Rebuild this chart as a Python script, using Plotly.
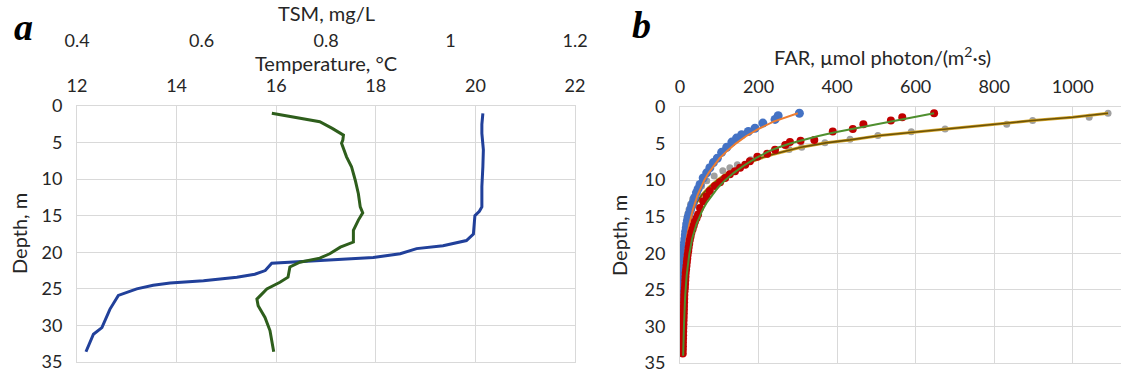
import plotly.graph_objects as go

W, H = 1121, 372

# ---------------- Panel a data ----------------
temp_depth = [1.0, 2.5, 3.75, 6.0, 8.3, 11.0, 13.8, 14.4, 15.0, 17.5, 18.4, 19.1, 19.5, 20.2, 20.7,
              21.0, 21.2, 21.5, 22.5, 23.0, 23.4, 23.9, 24.2, 24.5, 25.0, 25.9, 27.8, 30.3, 31.2, 33.6]
temp_c = [20.15, 20.13, 20.13, 20.16, 20.15, 20.13, 20.13, 20.08, 19.99, 19.96, 19.82, 19.35, 18.82, 18.49, 17.95,
          17.08, 16.55, 15.91, 15.78, 15.57, 15.21, 14.54, 13.87, 13.53, 13.20, 12.83, 12.66, 12.50, 12.33, 12.18]

tsm_depth = [1.0, 1.7, 2.15, 3.06, 3.98, 4.66, 5.1, 6.95, 8.3, 10.15, 12.0, 13.8, 14.6, 15.6, 17.0, 18.6,
             19.3, 20.2, 20.8, 21.35, 22.0, 23.4, 24.1, 25.0, 26.4, 27.3, 28.9, 30.7, 32.1, 33.6]
tsm_mgl = [0.713, 0.764, 0.790, 0.810, 0.828, 0.827, 0.825, 0.833, 0.841, 0.847, 0.852, 0.855, 0.859, 0.852, 0.844, 0.844,
           0.823, 0.806, 0.790, 0.758, 0.742, 0.739, 0.726, 0.705, 0.689, 0.691, 0.702, 0.710, 0.713, 0.716]

# ---------------- Panel b data ----------------
blue_depth = [0.85, 1.2, 1.7, 2.2, 2.9, 3.35, 3.8, 4.25, 4.8, 5.5, 6.2, 7.0, 7.6, 8.3, 9.0, 9.7, 10.6, 11.2, 11.7, 12.4,
              13.1, 13.5, 14.0, 14.5, 15.0, 15.5, 16.0, 16.5, 17.0, 17.5, 18.0, 18.5, 19.0, 19.5, 20.0, 20.5,
              21.0, 21.5, 22.0, 22.5, 23.0, 23.5, 24.0, 24.5, 25.0, 25.5, 26.0, 26.5, 27.0, 27.5, 28.0, 28.5,
              29.0, 29.5, 30.0]
blue_far = [304, 250, 242, 211, 191, 174, 157, 144, 132, 119, 106, 95, 85, 76, 68, 59, 51, 46, 42, 37,
            33, 30, 27, 24, 21, 19, 17, 16, 14.5, 13.5, 12.5, 11.5, 10.5, 10, 9, 8.5,
            8, 7.5, 7, 6.5, 6, 5.5, 5, 4.7, 4.3, 4, 3.7, 3.4, 3.1, 2.8, 2.5, 2.2,
            2, 1.7, 1.5]

red_depth = [0.86, 1.4, 1.85, 2.35, 3.0, 3.35, 4.5, 4.6, 4.8, 5.2, 5.85, 6.4, 6.8, 7.4, 7.9, 8.3, 8.8, 9.2,
             9.7, 10.3, 10.8, 11.5, 12.2, 12.9, 13.8, 14.7, 15.2, 15.7, 16.2, 16.7, 17.2, 17.7, 18.2, 18.7,
             19.2, 19.7, 20.2, 20.7, 21.2, 21.7, 22.2, 22.7, 23.2, 23.7, 24.2, 24.7, 25.2, 25.7, 26.2, 26.7,
             27.2, 27.7, 28.2, 28.7, 29.2, 29.7, 30.2, 30.7, 31.2, 31.7, 32.2, 32.7, 33.2, 33.7]
red_far = [647, 566, 537, 467, 440, 389, 342, 307, 280, 268, 242, 222, 197, 178, 166, 153, 140, 127,
           115, 102, 89, 76, 68, 59, 51, 46, 42, 38, 35, 32, 29, 27, 25, 23.5,
           22, 21, 19.5, 18.5, 17.5, 16.5, 15.5, 14.5, 14, 13.5, 13, 12.5, 11.5, 11, 10.8, 10.5,
           10.2, 10, 9.7, 9.4, 9.1, 8.8, 8.5, 8.2, 8, 7.8, 7.6, 7.4, 7.2, 7]

gray_depth = [0.86, 1.4, 1.85, 2.35, 3.0, 3.4, 3.9, 4.4, 4.9, 5.5, 5.8, 6.5, 7.2, 7.9, 8.3, 8.7, 9.45,
              10.1, 10.8, 11.7, 12.6, 13.3, 14.0, 14.6, 15.1]
gray_far = [1090, 1042, 898, 832, 675, 589, 504, 433, 369, 310, 278, 222, 180, 146, 127, 109, 87,
            68, 55, 41, 32, 27, 23, 20, 18]

orange_depth = [0.85, 1.5, 2, 3, 4, 5, 6, 7, 8, 9, 10, 12, 14, 16, 18, 20, 23, 26, 30]
orange_far = [300, 262, 238, 200, 168, 142, 120, 101, 86, 73, 62, 45, 33, 24, 17, 13, 8, 5, 3]

green_depth = [0.86, 1.5, 2, 2.5, 3, 3.5, 4, 4.5, 5, 5.5, 6, 7, 8, 9, 10, 11, 12, 13, 14, 16, 18, 20, 23, 26, 30, 34]
green_far = [647, 585, 540, 485, 435, 392, 350, 312, 280, 252, 228, 193, 163, 137, 115, 97, 82, 69, 58, 42, 31, 24, 17, 13, 10, 8]

brown_depth = [0.86, 1.4, 1.85, 2.35, 3.0, 3.4, 3.9, 4.5, 4.9, 5.5, 6.0, 6.5, 7.0, 7.5, 8, 9, 10, 11, 12, 13, 14, 15]
brown_far = [1090, 1000, 898, 800, 680, 595, 510, 433, 372, 308, 270, 235, 205, 180, 158, 122, 95, 73, 56, 43, 33, 25]

temp_ticks = [12, 14, 16, 18, 20, 22]
tsm_ticks = [0.4, 0.6, 0.8, 1.0, 1.2]
far_ticks = [0, 200, 400, 600, 800, 1000]
depth_ticks = [0, 5, 10, 15, 20, 25, 30, 35]

FONT = "Lato"
TXT = "#262626"
GRID = "#d9d9d9"


def px_x(p):
    return p / W


def px_y(p):
    return 1 - p / H


fig = go.Figure()

# Panel a
fig.add_trace(go.Scatter(x=temp_c, y=temp_depth, mode="lines", xaxis="x", yaxis="y",
                         line=dict(color="#21409a", width=3), showlegend=False))
fig.add_trace(go.Scatter(x=tsm_mgl, y=tsm_depth, mode="lines", xaxis="x2", yaxis="y",
                         line=dict(color="#2e5e1c", width=3), showlegend=False))

# Panel b
fig.add_trace(go.Scatter(x=gray_far, y=gray_depth, mode="markers", xaxis="x3", yaxis="y3",
                         marker=dict(color="#a0a0a0", size=7, line=dict(width=0)), showlegend=False))
fig.add_trace(go.Scatter(x=brown_far, y=brown_depth, mode="lines", xaxis="x3", yaxis="y3",
                         line=dict(color="#d4a52a", width=3), showlegend=False))
fig.add_trace(go.Scatter(x=brown_far, y=brown_depth, mode="lines", xaxis="x3", yaxis="y3",
                         line=dict(color="#6b5208", width=1.6), showlegend=False))
fig.add_trace(go.Scatter(x=blue_far, y=blue_depth, mode="markers", xaxis="x3", yaxis="y3",
                         marker=dict(color="#4472C4", size=9, line=dict(width=0)), showlegend=False))
fig.add_trace(go.Scatter(x=orange_far, y=orange_depth, mode="lines", xaxis="x3", yaxis="y3",
                         line=dict(color="#ED7D31", width=2), showlegend=False))
fig.add_trace(go.Scatter(x=red_far, y=red_depth, mode="markers", xaxis="x3", yaxis="y3",
                         marker=dict(color="#C00000", size=8, line=dict(width=0)), showlegend=False))
fig.add_trace(go.Scatter(x=green_far, y=green_depth, mode="lines", xaxis="x3", yaxis="y3",
                         line=dict(color="#4f8f2f", width=2), showlegend=False))

tickfont = dict(family=FONT, size=18, color=TXT)
box = dict(showline=True, mirror=True, linecolor=GRID, linewidth=1, zeroline=False, automargin=False,
           ticklabeloverflow="allow")

fig.update_layout(
    template="none",
    width=W, height=H,
    margin=dict(l=0, r=0, t=0, b=0, pad=0, autoexpand=False),
    paper_bgcolor="white", plot_bgcolor="white",
    xaxis=dict(domain=[px_x(77), px_x(575)], anchor="y", side="top", range=[12, 22],
               tickvals=temp_ticks, showgrid=True, gridcolor=GRID, gridwidth=1, ticks="",
               ticklabelstandoff=6, tickfont=tickfont, **box),
    xaxis2=dict(overlaying="x", anchor="free", position=px_y(57), side="top", range=[0.4, 1.2],
                tickvals=tsm_ticks, showgrid=False, showline=False, ticks="", zeroline=False,
                automargin=False, ticklabeloverflow="allow", ticklabelstandoff=6, tickfont=tickfont),
    yaxis=dict(domain=[px_y(362), px_y(106)], anchor="x", range=[35, 0], tickvals=depth_ticks,
               showgrid=True, gridcolor=GRID, gridwidth=1, ticks="", ticklabelstandoff=10,
               tickfont=tickfont, **box),
    xaxis3=dict(domain=[px_x(680), 1.0], anchor="y3", side="top", range=[0, 1123],
                tickvals=far_ticks, showgrid=True, gridcolor=GRID, gridwidth=1, ticks="",
                ticklabelstandoff=6, tickfont=tickfont, **box),
    yaxis3=dict(domain=[px_y(363), px_y(107)], anchor="x3", range=[35, 0], tickvals=depth_ticks,
                showgrid=True, gridcolor=GRID, gridwidth=1, ticks="", ticklabelstandoff=10,
                tickfont=tickfont, **box),
)

titlefont = dict(family=FONT, size=20, color=TXT)
ann = [
    dict(text="TSM, mg/L", x=px_x(326), y=px_y(13)),
    dict(text="Temperature, °C", x=px_x(326), y=px_y(63)),
    dict(text="Depth, m", x=px_x(19), y=px_y(234), textangle=-90),
    dict(text="FAR, µmol photon/(m<sup>2</sup>·s)", x=px_x(882), y=px_y(56)),
    dict(text="Depth, m", x=px_x(619), y=px_y(236), textangle=-90),
]
for a in ann:
    fig.add_annotation(xref="paper", yref="paper", showarrow=False, xanchor="center", yanchor="middle",
                       font=titlefont, **a)

for letter, x, y in [("a", 23, 27), ("b", 641, 25)]:
    fig.add_annotation(xref="paper", yref="paper", showarrow=False, xanchor="center", yanchor="middle",
                       x=px_x(x), y=px_y(y), text=f"<b><i>{letter}</i></b>",
                       font=dict(family="Liberation Serif", size=38, color="black"))

# remove the default 8px page margin so the figure fills the window exactly
fig.write_html("out.html", config={"displayModeBar": False},
               post_script="document.body.style.margin='0';document.body.style.overflow='hidden';")
